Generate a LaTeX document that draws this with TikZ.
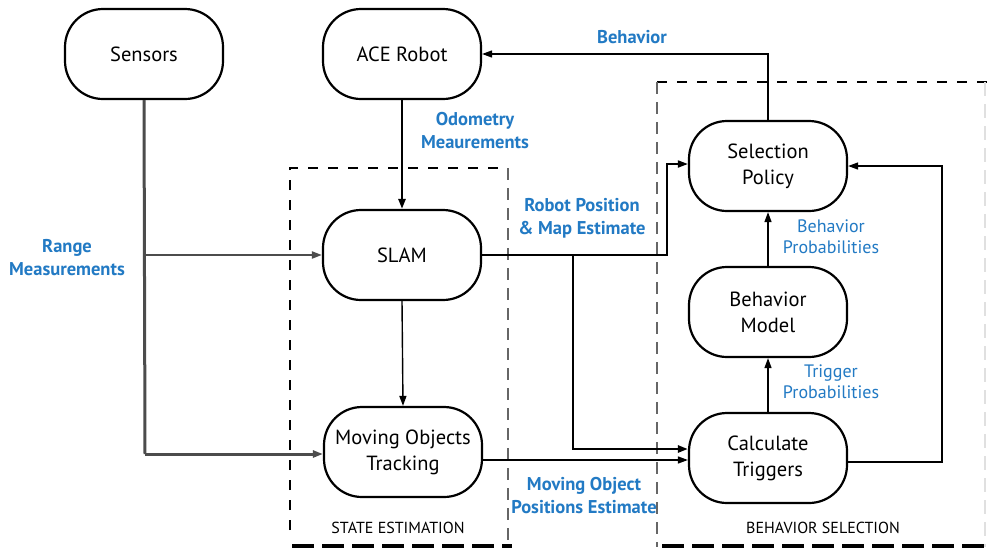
\documentclass[tikz,border=0pt]{standalone}
\usepackage{fontspec}
\setmainfont{PT Sans}
\usetikzlibrary{arrows.meta}
\definecolor{lblue}{RGB}{34,122,196}
\tikzset{
  blk/.style={draw, line width=2.2pt, rounded corners=38pt, minimum width=158pt, minimum height=90pt, align=center, font=\fontsize{20.5}{26}\selectfont, inner sep=0pt},
  blab/.style={text=lblue, align=center, font=\bfseries\fontsize{18.5}{23}\selectfont, inner sep=0pt},
  rlab/.style={text=lblue, align=center, font=\fontsize{18}{21}\selectfont, inner sep=0pt},
  glab/.style={align=center, font=\fontsize{16}{20}\selectfont, inner sep=0pt},
  arr/.style={-{Triangle[length=10pt,width=7pt]}},
  thinline/.style={line width=1.4pt},
  thickgray/.style={line width=3pt, draw=black!70},
  thindash/.style={line width=1.2pt, dash pattern=on 10pt off 10pt},
  graydash/.style={line width=2.8pt, draw=black!60, dash pattern=on 12pt off 8pt},
  fatdash/.style={line width=6pt, dash pattern=on 22pt off 8pt},
  faintdash/.style={line width=1.5pt, draw=black!12, dash pattern=on 14pt off 8pt}
}
\begin{document}
\begin{tikzpicture}[x=1pt,y=-1pt]
\useasboundingbox (0,0) rectangle (987,547);
\clip (0,0) rectangle (987,547);
\fill[white] (0,0) rectangle (987,547);

% dashed frames
\draw[thindash] (290,530) -- (290,168) -- (508,168);
\draw[graydash] (508,168) -- (508,547);
\draw[fatdash] (292,547) -- (512,547);
\draw[thindash] (657,82) -- (987,82);
\draw[graydash] (657,82) -- (657,547);
\draw[faintdash] (985,82) -- (985,547);
\draw[fatdash] (662,547) -- (990,547);

% blocks
\node[blk] (sensors) at (144,54) {Sensors};
\node[blk] (ace) at (402,54) {ACE Robot};
\node[blk] (slam) at (402,255) {SLAM};
\node[blk] (mot) at (403,452) {Moving Objects\\Tracking};
\node[blk] (policy) at (768,166) {Selection\\Policy};
\node[blk] (model) at (768,312) {Behavior\\Model};
\node[blk] (calc) at (768,458) {Calculate\\Triggers};

% connectors
\coordinate (trunk) at (145,454);
\draw[thickgray] (sensors.south) -- (trunk);
\draw[arr, line width=2pt, draw=black!70] (sensors.south |- slam.west) -- (slam.west);
\draw[arr, thickgray] (trunk) -- (trunk -| mot.west);
\draw[arr, line width=2.4pt] (ace.south) -- (slam.north);
\draw[arr, thinline] (slam.south) -- (mot.north);
\coordinate (b1) at (667,164);
\draw[arr, line width=1.8pt] (slam.east) -| (b1) -- (b1 -| policy.west);
\coordinate (j) at (573,255);
\draw[arr, line width=2.8pt] (j) |- ([yshift=9pt]calc.west);
\draw[arr, thinline] ([yshift=-8pt]mot.east) -- ([yshift=-8pt]mot.east -| calc.west);
\draw[arr, thinline] (calc.north) -- (model.south);
\draw[arr, thinline] (model.north) -- (policy.south);
\coordinate (r1) at (942,462);
\draw[arr, thinline] ([yshift=-4pt]calc.east) -- (r1) |- (policy.east);
\draw[arr, thinline] (policy.north) |- (ace.east);

% labels
\node[blab] (lbeh) at (632,37) {Behavior};
\node[blab] (lodo) at (475,131) {Odometry\\Meaurements};
\node[blab] (lrob) at (582,218) {Robot Position\\\& Map Estimate};
\node[blab] (lrng) at (67,258) {Range\\Measurements};
\node[blab] (lmov) at (584,496) {Moving Object\\Positions Estimate};
\node[rlab] (lbp) at (831,237) {Behavior\\Probabilities};
\node[rlab] (ltp) at (831,382) {Trigger\\Probabilities};
\node[glab] (lse) at (398,528) {STATE ESTIMATION};
\node[glab] (lbs) at (823,528) {BEHAVIOR SELECTION};
\end{tikzpicture}
\end{document}
